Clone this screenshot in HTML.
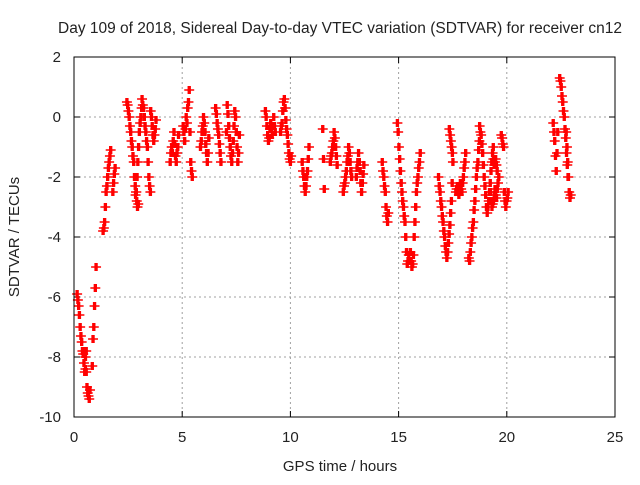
<!DOCTYPE html>
<html><head><meta charset="utf-8"><style>
body{margin:0;background:#fff}
svg text{font-family:"Liberation Sans",sans-serif;font-size:15px;fill:#222}
</style></head><body>
<svg id="chart" width="640" height="480" xmlns="http://www.w3.org/2000/svg">
<text x="340" y="33" text-anchor="middle" style="font-size:15.5px">Day 109 of 2018, Sidereal Day-to-day VTEC variation (SDTVAR) for receiver cn12</text>
<g id="grid"></g>
<g id="ticks"></g>
<g id="pts"></g>
<rect x="74" y="57" width="541" height="360" fill="none" stroke="#000" stroke-width="1"/>
<text x="340" y="471" text-anchor="middle">GPS time / hours</text>
<text transform="translate(19,237) rotate(-90)" text-anchor="middle">SDTVAR / TECUs</text>
</svg>
<script>
const xTicks=[0,5,10,15,20,25];
const yTicks=[2,0,-2,-4,-6,-8,-10];
const tracks=[
[0.1,[-5.9,-6.1,-6.3,-6.6,-7,-7.3,-7.5,-7.8,-7.9,-8.2,-8.5,-8.4,-7.8]],
[0.45,[-7.8,-8,-8.5,-9,-9.2,-9.3,-9.4,-9.1]],
[0.8,[-8.3,-7.4,-7,-6.3,-5.7,-5]],
[1.3,[-3.8,-3.7,-3.5,-3,-2.5,-2.3,-2,-1.7,-1.5,-1.3,-1.1]],
[1.75,[-2.5,-2.2,-1.9,-1.7]],
[2.4,[0.5,0.4,0.2,0,-0.3,-0.5,-0.8,-1,-1.3,-1.5,-2,-2.3,-2.5,-2.8,-3,-2.9]],
[2.8,[-2.6,-2.5,-2,-1.5,-1,-0.5,-0.2,0,0.3]],
[3.1,[0.6,0.4,0.3,0,-0.3,-0.5,-0.8,-1,-1.5,-2,-2.3,-2.5]],
[3.5,[0.2,0,-0.3,-0.6,-0.8,-0.6,-0.4,-0.1]],
[4.4,[-1.5,-1.2,-1,-1.2,-0.8,-0.5,-0.9,-1.3,-1.5,-1.2,-1,-0.6]],
[5.0,[-0.3,-0.5,-0.8,-0.4,0,-0.2,0.3,0.5,0.9,-0.5,-1.5,-1.8,-2]],
[5.8,[-1,-0.8,-0.5,-0.3,0,-0.2,-0.5,-0.9,-1.2,-1.5,-1.2,-0.7]],
[6.5,[0.3,0.1,-0.2,-0.4,-0.6,-0.9,-1.2,-1.5]],
[7.0,[-0.5,0.4,0.1,-0.3,-0.7,-1,-1.3,-1.5,-1.2,-0.8,-0.3,0.2,0,-0.5,-1,-1.5,-1.2,-0.6]],
[8.8,[0.2,0,-0.3,-0.6,-0.8,-0.7,-0.4,-0.2,-0.4,-0.6,-0.3,0,-0.3,-0.5]],
[9.5,[-0.5,-0.3,-0.2,0.2,0.5,0.6,0.3,-0.1,-0.4,-0.6,-0.9,-1.2,-1.4,-1.5,-1.3]],
[10.5,[-1.5,-1.8,-2,-2.3,-2.5,-2.3,-2,-1.8,-1.4,-1]],
[11.45,[-0.4,-1.4,-2.4]],
[11.8,[-1.5,-1.3,-1.2,-1,-0.8,-0.5,-0.7,-1,-1.3,-1.6]],
[12.4,[-2.5,-2.3,-2.2,-2,-1.8,-1.5,-1.3,-1,-1.2,-1.5,-1.8,-2]],
[13.0,[-2,-1.7,-1.5,-1.2,-1.5,-1.8,-2.2,-2.5,-2.2,-1.9,-1.6]],
[14.2,[-1.5,-1.8,-2,-2.3,-2.5,-3,-3.3,-3.5,-3.2]],
[14.9,[-0.2,-0.5,-1,-1.4,-1.8,-2.2,-2.5,-2.8,-3,-3.3,-3.5,-4,-4.5,-4.9,-4.8,-4.6]],
[15.5,[-4.5,-4.8,-5,-4.9,-4.6,-4,-3.5,-3,-2.5,-2.2,-2,-1.7,-1.5,-1.2]],
[16.8,[-2,-2.3,-2.5,-2.8,-3,-3.3,-3.5,-3.8,-4,-4.3,-4.5,-4.7,-4.5,-4.2,-3.9,-3.6,-3.2,-2.8,-2.2,-1.5]],
[17.3,[-0.4,-0.6,-0.8,-1,-1.2]],
[17.6,[-2.5,-2.4,-2.3,-2.5,-2.6,-2.4,-2.2,-2.4,-2.5,-2.2,-2,-1.7,-1.5,-1.2]],
[18.2,[-4.7,-4.8,-4.5,-4.2,-4,-3.7,-3.5,-3.1,-2.8,-2.4,-2,-1.7,-1.5,-1.1,-0.8]],
[18.7,[-0.3,-0.5,-0.6,-0.9,-1.2,-1.6,-2,-2.3,-2.6,-3,-3.2,-3,-2.8,-2.5,-2.2,-1.8,-1.5,-1.2,-1]],
[19.2,[-2.5,-2.8,-3,-2.9,-2.8,-2.6,-2.4,-2.6,-2.7,-2.4,-2.2,-2]],
[19.3,[-1.2,-1.4,-1.6,-1.5,-1.4,-1.6,-1.8]],
[19.7,[-0.6,-0.7,-0.9,-1,-2.5,-2.8,-3,-2.8,-2.7,-2.5]],
[22.1,[-0.2,-0.5,-0.8,-1.3,-1.8,-1.2,-0.5]],
[22.4,[1.3,1.2,1.0,0.7,0.5,0.2,0,-0.4,-0.7,-1.2,-1.6,-2]],
[22.7,[-0.5,-1,-1.5,-2,-2.5,-2.7,-2.6]]
];
const X0=74,X1=615,Y0=57,Y1=417;
const xs=v=>X0+(v-0)/(25-0)*(X1-X0);
const ys=v=>Y0+(2-v)/(2-(-10))*(Y1-Y0);
const NS='http://www.w3.org/2000/svg';
const grid=document.getElementById('grid'),ticks=document.getElementById('ticks'),pts=document.getElementById('pts');
function mk(tag,attrs,parent){const e=document.createElementNS(NS,tag);for(const k in attrs)e.setAttribute(k,attrs[k]);parent.appendChild(e);return e;}
xTicks.forEach(t=>{const x=xs(t);
 if(t>0&&t<25){const g=mk('line',{x1:x,x2:x,y1:Y0,y2:Y1,stroke:'#a0a0a0','stroke-dasharray':'2,3'},grid);}
 mk('line',{x1:x,x2:x,y1:Y1,y2:Y1-6,stroke:'#000'},ticks);mk('line',{x1:x,x2:x,y1:Y0,y2:Y0+6,stroke:'#000'},ticks);
 const tx=mk('text',{x:x,y:442,'text-anchor':'middle'},ticks);tx.textContent=t;
 
 
});
yTicks.forEach(t=>{const y=ys(t);
 if(t<2&&t>-10){const g=mk('line',{x1:X0,x2:X1,y1:y,y2:y,stroke:'#a0a0a0','stroke-dasharray':'2,3'},grid);}
 mk('line',{x1:X0,x2:X0+6,y1:y,y2:y,stroke:'#000'},ticks);mk('line',{x1:X1,x2:X1-6,y1:y,y2:y,stroke:'#000'},ticks);
 const tx=mk('text',{x:61,y:y+5,'text-anchor':'end'},ticks);tx.textContent=t;
 
 
});
let d='';
tracks.forEach(([t0,vals])=>{vals.forEach((v,i)=>{const t=t0+i*0.035;const y=ys(v);
 [0,0.045,0.09].forEach(o=>{const x=xs(t+o);d+=`M${x-4},${y}h8M${x},${y-4}v8`;});});});
const p=mk('path',{d:d,stroke:'#ff0000','stroke-width':1.4,fill:'none'},pts);


</script>
</body></html>
